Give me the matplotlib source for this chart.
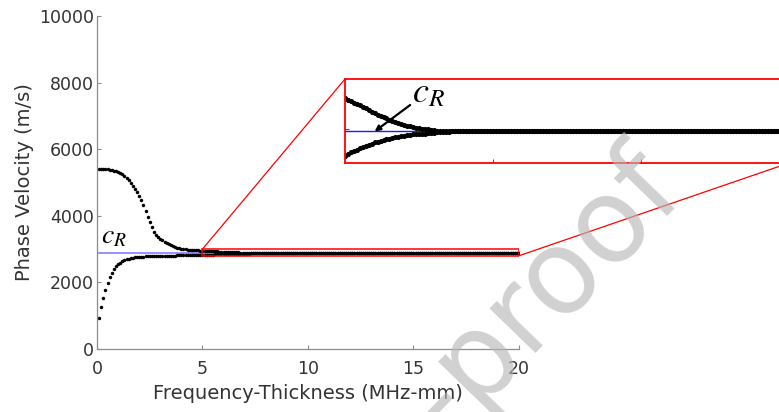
import numpy as np
import matplotlib
matplotlib.use('Agg')
import matplotlib.pyplot as plt
from matplotlib.patches import Rectangle, ConnectionPatch

plt.rcParams['font.family'] = ['DejaVu Sans']
plt.rcParams['mathtext.fontset'] = 'stix'

# Rayleigh wave speed (m/s)
c_rayleigh = 2875

# frequency-thickness grid (MHz-mm), 0.1 step
freq_thk = np.round(np.arange(1, 201) * 0.1, 1)

# symmetric-like branch, 0.1 .. 8.5 MHz-mm
upper_head = [5410, 5408, 5405, 5400, 5395, 5385, 5372, 5358, 5340, 5320,
              5290, 5250, 5200, 5140, 5060, 4970, 4880, 4800, 4710, 4600,
              4470, 4310, 4130, 3960, 3800, 3650, 3520, 3420, 3360, 3310,
              3260, 3215, 3178, 3145, 3115, 3090, 3065, 3045, 3028, 3014,
              3002, 2992, 2984, 2977, 2971, 2966, 2962, 2959, 2956, 2954,
              2951, 2947, 2944, 2941, 2937, 2934, 2930, 2926, 2922, 2919,
              2915, 2912, 2909, 2906, 2903, 2900, 2898, 2895, 2893, 2891,
              2889, 2887, 2886, 2884, 2883, 2882, 2881, 2880, 2879, 2878,
              2877, 2877, 2876, 2876, 2876]

# antisymmetric-like branch, 0.1 .. 8.5 MHz-mm
lower_head = [920, 1250, 1540, 1780, 1980, 2150, 2290, 2400, 2480, 2545,
              2595, 2635, 2665, 2690, 2710, 2725, 2738, 2748, 2757, 2764,
              2770, 2775, 2779, 2783, 2786, 2789, 2791, 2793, 2795, 2797,
              2799, 2800, 2802, 2803, 2804, 2806, 2807, 2808, 2809, 2810,
              2811, 2812, 2813, 2813, 2814, 2815, 2815, 2816, 2816, 2817,
              2821, 2825, 2829, 2832, 2835, 2838, 2841, 2844, 2846, 2849,
              2851, 2853, 2855, 2857, 2858, 2860, 2861, 2863, 2864, 2865,
              2866, 2867, 2868, 2869, 2869, 2870, 2870, 2871, 2871, 2872,
              2873, 2873, 2874, 2874, 2874]

# both branches sit on c_R past 8.5 MHz-mm
tail = [c_rayleigh] * (len(freq_thk) - len(upper_head))
upper_vel = np.array(upper_head + tail, dtype=float)
lower_vel = np.array(lower_head + tail, dtype=float)

zoom_x = (5, 20)
zoom_y = (2800, 3000)

fig = plt.figure(figsize=(7.79, 4.12), dpi=100)
ax = fig.add_axes([0.1245, 0.1529, 0.5417, 0.8083])

spine_col = '#8c8c8c'
text_col = '#333333'

ax.plot([0, 20], [c_rayleigh, c_rayleigh], color='#8080ff', lw=1.2, zorder=1)
ax.plot(freq_thk, upper_vel, 'o', color='black', ms=2.5, mew=0, zorder=2)
ax.plot(freq_thk, lower_vel, 'o', color='black', ms=2.5, mew=0, zorder=2)

ax.add_patch(Rectangle((zoom_x[0], zoom_y[0]), zoom_x[1] - zoom_x[0],
                       zoom_y[1] - zoom_y[0], fill=False, ec='red', lw=1.1, zorder=3))

ax.text(0.2, 3170, r'$c_R$', fontsize=20, ha='left', va='baseline', color='black')

ax.set_xlim(0, 20)
ax.set_ylim(0, 10000)
ax.set_xticks([0, 5, 10, 15, 20])
ax.set_yticks(np.arange(0, 10001, 2000))
for side in ['top', 'right']:
    ax.spines[side].set_visible(False)
for side in ['left', 'bottom']:
    ax.spines[side].set_color(spine_col)
    ax.spines[side].set_linewidth(0.9)
ax.tick_params(direction='in', length=3, color=spine_col, labelsize=12.5,
               labelcolor=text_col)
ax.tick_params(axis='y', pad=2)
ax.tick_params(axis='x', pad=8)
ax.set_xlabel('Frequency-Thickness (MHz-mm)', fontsize=14, color=text_col, labelpad=4)
ax.set_ylabel('Phase Velocity (m/s)', fontsize=14, color=text_col, labelpad=4)

# zoomed view of the converged region
axin = fig.add_axes([0.4429, 0.6044, 0.570, 0.2039])
axin.plot([zoom_x[0], zoom_x[1]], [c_rayleigh, c_rayleigh], color='#1a1aff', lw=1.0, zorder=1)
axin.plot(freq_thk, upper_vel, 'o', color='black', ms=3.7, mew=0, zorder=2)
axin.plot(freq_thk, lower_vel, 'o', color='black', ms=3.7, mew=0, zorder=2)
axin.set_xlim(*zoom_x)
axin.set_ylim(*zoom_y)
axin.set_xticks([10, 15])
axin.set_yticks([2880])
axin.set_xticklabels([])
axin.set_yticklabels([])
axin.tick_params(direction='in', length=3, color='#555555')
for sp in axin.spines.values():
    sp.set_color('red')
    sp.set_linewidth(1.3)

axin.annotate('', xy=(6.0, c_rayleigh), xytext=(7.2, 2938),
              arrowprops=dict(arrowstyle='-|>', color='black', lw=1.6,
                              mutation_scale=8, shrinkA=0, shrinkB=0))
axin.text(7.25, 2945, r'$c_R$', fontsize=26, ha='left', va='baseline', color='black')

for xa, ya, xb, yb in [(zoom_x[0], zoom_y[1], 0, 1), (zoom_x[1], zoom_y[0], 1, 0)]:
    con = ConnectionPatch(xyA=(xa, ya), coordsA=ax.transData,
                          xyB=(xb, yb), coordsB=axin.transAxes,
                          color='red', lw=0.9)
    fig.add_artist(con)

fig.text(0.886, 0.515, 'Journal Pre-proof', fontsize=84, rotation=46,
         rotation_mode='anchor', ha='right', va='baseline',
         color='#b8b8b8', alpha=0.65, zorder=10)

fig.savefig('out.png', dpi=100)
